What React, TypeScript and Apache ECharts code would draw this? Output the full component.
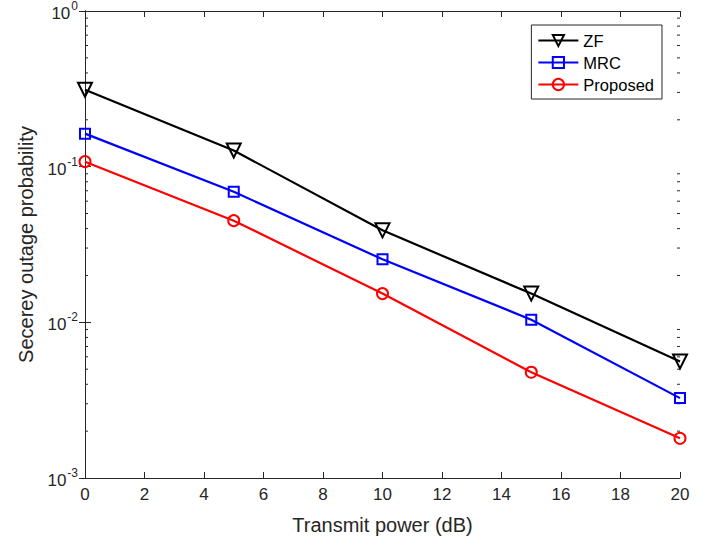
import React, { useEffect, useRef } from "react";
import * as echarts from "echarts";

const xValues = [0, 5, 10, 15, 20];
const zfValues = [0.312, 0.127, 0.039, 0.0153, 0.0056];
const mrcValues = [0.163, 0.069, 0.0254, 0.0104, 0.00326];
const proposedValues = [0.1077, 0.045, 0.0153, 0.00478, 0.0018];
const seriesNames = ["ZF", "MRC", "Proposed"];
const decades = [0.001, 0.01, 0.1];
const mantissas = [2, 3, 4, 5, 6, 7, 8, 9];

const AXIS = "#262626";
const FONT = "Liberation Sans, Arial, Helvetica, sans-serif";

export default function App() {
  const ref = useRef<HTMLDivElement>(null);
  useEffect(() => {
    document.body.style.margin = "0";
    const chart = echarts.init(ref.current!, null, { renderer: "svg" });
    const minorTicks: number[][] = [];
    decades.forEach((d) => mantissas.forEach((m) => minorTicks.push([0, d * m])));
    const mk = (name: string, vals: number[], color: string, symbol: string, size: number, rot: number) => ({
      name,
      type: "line",
      data: xValues.map((x, i) => [x, vals[i]]),
      symbol,
      symbolSize: size,
      symbolRotate: rot,
      showSymbol: true,
      color,
      lineStyle: { color, width: 2.2 },
      itemStyle: { color: "none", borderColor: color, borderWidth: 2 },
      z: 3,
    });
    chart.setOption({
      animation: false,
      textStyle: { fontFamily: FONT },
      grid: { left: 85, right: 37, top: 10, bottom: 68, containLabel: false },
      legend: {
        data: seriesNames,
        orient: "vertical",
        right: 55,
        top: 25,
        itemWidth: 40,
        itemHeight: 14,
        itemGap: 5,
        padding: [7, 8, 6, 6],
        borderColor: AXIS,
        borderWidth: 1,
        backgroundColor: "#fff",
        textStyle: { fontSize: 16.5, color: "#000", fontFamily: FONT },
      },
      xAxis: [
        {
          type: "value",
          min: 0,
          max: 20,
          interval: 2,
          position: "bottom",
          name: "Transmit power (dB)",
          nameLocation: "middle",
          nameGap: 37,
          nameTextStyle: { fontSize: 20, color: AXIS, fontFamily: FONT },
          axisLine: { lineStyle: { color: AXIS, width: 1 } },
          axisTick: { inside: true, length: 6, lineStyle: { color: AXIS } },
          axisLabel: { fontSize: 17, color: AXIS, margin: 8, fontFamily: FONT },
          splitLine: { show: false },
        },
        {
          type: "value",
          min: 0,
          max: 20,
          interval: 2,
          position: "top",
          axisLine: { show: true, lineStyle: { color: AXIS, width: 1 } },
          axisTick: { inside: true, length: 6, lineStyle: { color: AXIS } },
          axisLabel: { show: false },
          splitLine: { show: false },
        },
      ],
      yAxis: [
        {
          type: "log",
          min: 0.001,
          max: 1,
          logBase: 10,
          position: "left",
          name: "Secerey outage probability",
          nameLocation: "middle",
          nameGap: 49,
          nameTextStyle: { fontSize: 20, color: AXIS, fontFamily: FONT },
          axisLine: { show: true, lineStyle: { color: AXIS, width: 1 } },
          axisTick: { inside: true, length: 6, lineStyle: { color: AXIS } },
          axisLabel: {
            color: AXIS,
            margin: 7,
            formatter: (v: number) => `{b|10}{s|${Math.round(Math.log10(v))}}`,
            rich: {
              b: { fontSize: 17, color: AXIS, fontFamily: FONT, verticalAlign: "bottom", lineHeight: 22 },
              s: { fontSize: 12, color: AXIS, fontFamily: FONT, verticalAlign: "top", lineHeight: 12, padding: [0, 0, 0, 1] },
            },
          },
          splitLine: { show: false },
        },
        {
          type: "log",
          min: 0.001,
          max: 1,
          logBase: 10,
          position: "right",
          axisLine: { show: true, lineStyle: { color: AXIS, width: 1 } },
          axisTick: { inside: true, length: 6, lineStyle: { color: AXIS } },
          axisLabel: { show: false },
          splitLine: { show: false },
        },
      ],
      series: [
        {
          type: "custom",
          silent: true,
          data: minorTicks,
          xAxisIndex: 0,
          yAxisIndex: 0,
          clip: false,
          z: 1,
          renderItem: (params: any, api: any) => {
            const v = api.value(1);
            const p1 = api.coord([0, v]);
            const p2 = api.coord([20, v]);
            return {
              type: "group",
              children: [
                { type: "line", shape: { x1: p1[0], y1: p1[1], x2: p1[0] + 3, y2: p1[1] }, style: { stroke: AXIS, lineWidth: 1 } },
                { type: "line", shape: { x1: p2[0] - 3, y1: p2[1], x2: p2[0], y2: p2[1] }, style: { stroke: AXIS, lineWidth: 1 } },
              ],
            };
          },
        },
        mk("ZF", zfValues, "#000000", "triangle", 14, 180),
        mk("MRC", mrcValues, "#0000ff", "rect", 10, 0),
        mk("Proposed", proposedValues, "#ff0000", "circle", 11, 0),
      ],
    });
    return () => chart.dispose();
  }, []);
  return <div ref={ref} style={{ width: 717, height: 546, background: "#fff" }} />;
}
